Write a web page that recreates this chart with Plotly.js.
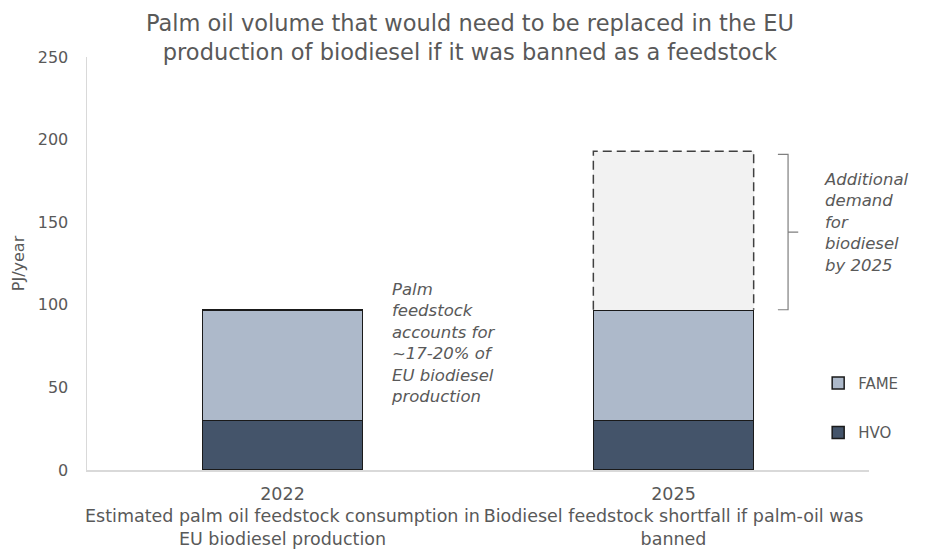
<!DOCTYPE html>
<html>
<head>
<meta charset="utf-8">
<script src="https://cdn.plot.ly/plotly-3.0.1.min.js"></script>
<style>html,body{margin:0;padding:0;background:#fff;}#chart{width:925px;height:549px;}</style>
</head>
<body>
<div id="chart"></div>
<script>
// ---- data ----
var categoryIndex = [0, 1];
var categoryLabels = [
  "2022<br>Estimated palm oil feedstock consumption in<br>EU biodiesel production",
  "2025<br>Biodiesel feedstock shortfall if palm-oil was<br>banned"
];
var hvo = [30, 30];
var fame = [67, 67];
var additional = [0, 96];
var yTicks = [0, 50, 100, 150, 200, 250];

// ---- styling ----
var grey = "#595959";
var font = "DejaVu Sans, Arial, sans-serif";
var barWidth = 0.41;

var traces = [
  {type: "bar", name: "HVO", x: categoryIndex, y: hvo, width: barWidth,
   marker: {color: "#44546a", line: {color: "#1a1a1a", width: 1.5}}, legend: "legend2"},
  {type: "bar", name: "FAME", x: categoryIndex, y: fame, width: barWidth,
   marker: {color: "#adb9ca", line: {color: "#1a1a1a", width: 1.5}}, legend: "legend"},
  {type: "bar", name: "Additional demand", x: categoryIndex, y: additional, width: barWidth,
   marker: {color: "#f2f2f2", line: {width: 0}}, showlegend: false}
];

// dashed outline + bracket derived from data
var shapes = [];
categoryIndex.forEach(function(c, i) {
  if (additional[i] > 0) {
    var base = hvo[i] + fame[i];
    var top = base + additional[i];
    var x0 = c - barWidth / 2, x1 = c + barWidth / 2;
    shapes.push({type: "path", xref: "x", yref: "y",
      path: "M" + x0 + "," + base + " L" + x0 + "," + top + " L" + x1 + "," + top + " L" + x1 + "," + base,
      line: {color: "#404040", width: 1.5, dash: "9px,5px"}});
    var bx = x1 + 0.088, bx0 = bx - 0.026, bx1 = bx + 0.026;
    var bt = top - 2, bb = base, bm = (bt + bb) / 2;
    shapes.push({type: "path", xref: "x", yref: "y",
      path: "M" + bx0 + "," + bt + " L" + bx + "," + bt + " L" + bx + "," + bb + " L" + bx0 + "," + bb +
            " M" + bx + "," + bm + " L" + bx1 + "," + bm,
      line: {color: "#7f7f7f", width: 1.2}});
  }
});

var layout = {
  width: 925, height: 549,
  margin: {l: 87, r: 56, t: 57, b: 79},
  paper_bgcolor: "#fff", plot_bgcolor: "#fff",
  barmode: "stack",
  font: {family: font, color: grey},
  title: {text: "Palm oil volume that would need to be replaced in the EU<br>production of biodiesel if it was banned as a feedstock",
          font: {size: 22.5, color: grey, family: font}, x: 0.508, xanchor: "center",
          yref: "container", y: 0.944, yanchor: "middle"},
  xaxis: {range: [-0.5, 1.5], tickvals: categoryIndex, ticktext: categoryLabels,
          showgrid: false, zeroline: false, showline: true, linecolor: "#d9d9d9", linewidth: 1.5,
          ticks: "", tickfont: {size: 17.5, color: grey}, ticklabelstandoff: 7, fixedrange: true},
  yaxis: {range: [0, 250], tickvals: yTicks, showgrid: false, zeroline: false,
          showline: true, linecolor: "#d9d9d9", linewidth: 1.5, ticks: "",
          tickfont: {size: 16, color: grey}, ticklabelstandoff: 14,
          title: {text: "PJ/year", font: {size: 16, color: grey}, standoff: 9}},
  showlegend: true,
  legend: {x: 0.935, xanchor: "left", y: 0.21, yanchor: "middle", bgcolor: "rgba(0,0,0,0)",
           font: {size: 15, color: grey}, itemwidth: 30},
  legend2: {x: 0.935, xanchor: "left", y: 0.09, yanchor: "middle", bgcolor: "rgba(0,0,0,0)",
           font: {size: 15, color: grey}, itemwidth: 30},
  shapes: shapes,
  annotations: [
    {xref: "x", yref: "y", x: 0.273, y: 116, xanchor: "left", yanchor: "top", align: "left", showarrow: false,
     text: "<i>Palm<br>feedstock<br>accounts for<br>~17-20% of<br>EU biodiesel<br>production</i>",
     font: {size: 16.5, color: grey}},
    {xref: "x", yref: "y", x: 1.38, y: 183, xanchor: "left", yanchor: "top", align: "left", showarrow: false,
     text: "<i>Additional<br>demand<br>for<br>biodiesel<br>by 2025</i>",
     font: {size: 16.5, color: grey}}
  ]
};

Plotly.newPlot("chart", traces, layout, {displayModeBar: false, staticPlot: true});
</script>
</body>
</html>
